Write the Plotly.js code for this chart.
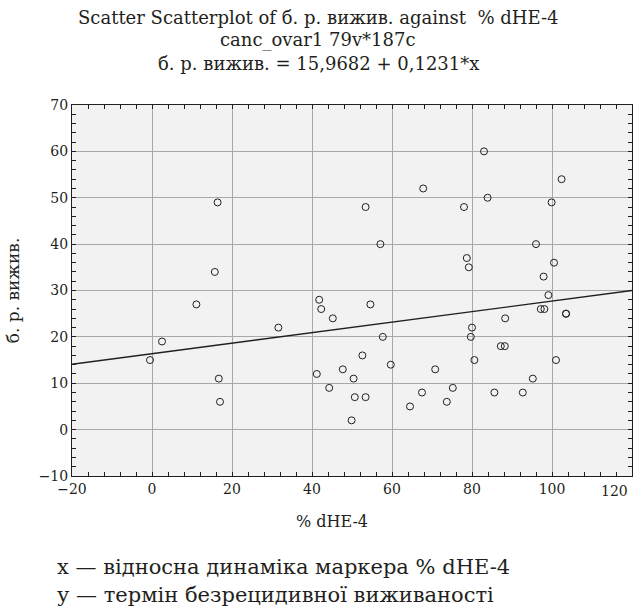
<!DOCTYPE html>
<html>
<head>
<meta charset="utf-8">
<script src="https://cdn.plot.ly/plotly-3.0.1.min.js"></script>
<style>html,body{margin:0;padding:0;background:#fff;}#chart{width:633px;height:610px;}</style>
</head>
<body>
<div id="chart"></div>
<script>
// % dHE-4 values (x)
var xValues = [-0.5, 2.5, 11.1, 15.7, 16.4, 16.7, 17.0, 31.6, 41.2, 41.8, 42.3, 44.3, 45.2, 47.7, 49.9, 50.4, 50.7, 52.6, 53.4, 53.4, 54.6, 57.1, 57.7, 59.7, 64.5, 67.5, 67.8, 70.8, 73.7, 75.2, 78.0, 78.7, 79.2, 79.7, 80.0, 80.6, 83.0, 83.9, 85.6, 87.2, 88.2, 88.3, 92.7, 95.2, 96.0, 97.2, 97.9, 98.1, 99.1, 99.9, 100.5, 101.0, 102.4, 103.5, 103.5];
// б. р. вижив. values (y)
var yValues = [15, 19, 27, 34, 49, 11, 6, 22, 12, 28, 26, 9, 24, 13, 2, 11, 7, 16, 48, 7, 27, 40, 20, 14, 5, 8, 52, 13, 6, 9, 48, 37, 35, 20, 22, 15, 60, 50, 8, 18, 18, 24, 8, 11, 40, 26, 33, 26, 29, 49, 36, 15, 54, 25, 25];
// fitted line as drawn
var fitX = [-20, 120];
var fitY = [14.1, 30.0];

// x tick labels
var xTickVals = [-20, 0, 20, 40, 60, 80, 100, 120];
var xTickText = ["−20", "0", "20", "40", "60", "80", "100", "120"];

var titleLines = [
  "Scatter Scatterplot of б. р. вижив. against  % dHE-4",
  "canc_ovar1 79v*187c",
  "б. р. вижив. = 15,9682 + 0,1231*x"
];
var xTitle = "% dHE-4";
var yTitle = "б. р. вижив.";
var notes = [
  "x — відносна динаміка маркера % dHE-4",
  "у — термін безрецидивної виживаності"
];

var font = "DejaVu Serif";
var txt = "#231f20";

var traces = [
  {
    x: fitX, y: fitY, mode: "lines", type: "scatter",
    line: {color: "#231f20", width: 1.3}, hoverinfo: "skip", showlegend: false
  },
  {
    x: xValues, y: yValues, mode: "markers", type: "scatter",
    marker: {symbol: "circle-open", size: 7, color: "#231f20", line: {width: 1, color: "#231f20"}},
    showlegend: false
  }
];

var annotations = [];
var titleY = [17, 40, 63];
titleLines.forEach(function (t, i) {
  annotations.push({
    text: t, xref: "paper", yref: "paper", x: (318 - 72) / 560, xanchor: "center",
    y: 1 + (105 - titleY[i]) / 371, yanchor: "middle", showarrow: false,
    font: {family: font, size: 18, color: txt}
  });
});
var noteY = [567, 595];
notes.forEach(function (t, i) {
  annotations.push({
    text: t, xref: "paper", yref: "paper", x: (55 - 72) / 560, xanchor: "left",
    y: -(noteY[i] - 476) / 371, yanchor: "middle", showarrow: false,
    font: {family: font, size: 21, color: txt}
  });
});
annotations.push({
  text: xTitle, xref: "paper", yref: "paper", x: (332 - 72) / 560, xanchor: "center",
  y: -(521 - 476) / 371, yanchor: "middle", showarrow: false,
  font: {family: font, size: 16, color: txt}
});
// last x tick label, kept inside the page at the right edge
var lastIdx = xTickVals.length - 1;
annotations.push({
  text: xTickText[lastIdx], xref: "x", yref: "paper", x: xTickVals[lastIdx], xanchor: "right",
  y: -(491 - 476) / 371, yanchor: "middle", showarrow: false, xshift: -2,
  font: {family: font, size: 14, color: txt}
});

var axisCommon = {
  showline: true, linecolor: "#231f20", linewidth: 1,
  mirror: "allticks", ticks: "inside", ticklen: 4, tickcolor: "#231f20",
  showgrid: true, gridcolor: "#a8a8a8", gridwidth: 1,
  zeroline: false,
  tickfont: {family: font, size: 14, color: txt}
};

var layout = {
  width: 633, height: 610,
  margin: {l: 72, r: 1, t: 105, b: 134, pad: 0},
  paper_bgcolor: "#ffffff", plot_bgcolor: "#f2f2f2",
  font: {family: font, color: txt},
  xaxis: Object.assign({}, axisCommon, {
    range: [-20, 120],
    tickmode: "array", tickvals: xTickVals.slice(0, lastIdx), ticktext: xTickText.slice(0, lastIdx),
    minor: {tickmode: "linear", tick0: 0, dtick: 4, ticks: "inside", ticklen: 4, tickcolor: "#231f20", showgrid: false}
  }),
  yaxis: Object.assign({}, axisCommon, {
    range: [-10, 70], dtick: 10, tick0: 0,
    minor: {dtick: 2, ticks: "inside", ticklen: 4, tickcolor: "#231f20", showgrid: false},
    title: {text: yTitle, font: {family: font, size: 17, color: txt}, standoff: 14}
  }),
  annotations: annotations
};

Plotly.newPlot("chart", traces, layout, {staticPlot: true, displayModeBar: false});
</script>
</body>
</html>
